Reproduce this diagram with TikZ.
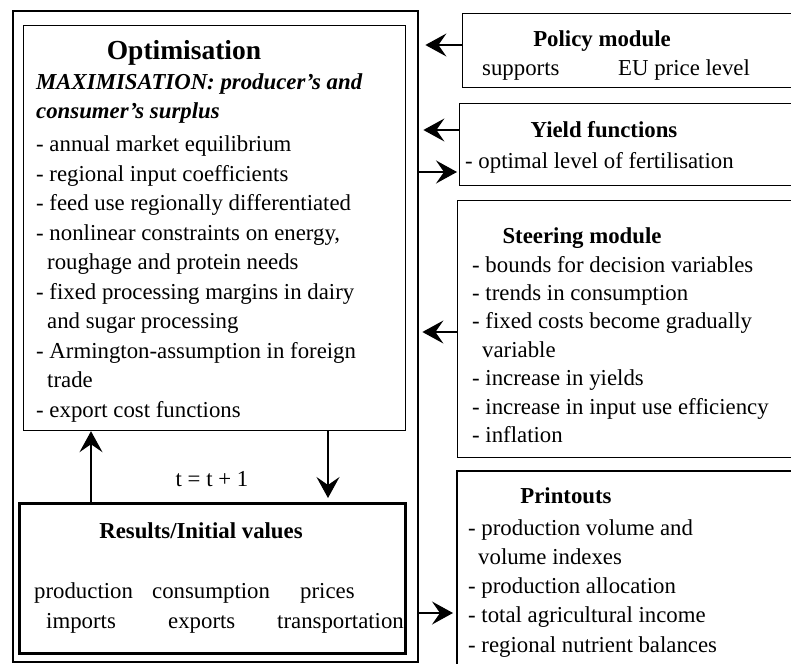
\documentclass[tikz,border=0pt]{standalone}
\usepackage{fontspec}
\setmainfont{Liberation Serif}
\usetikzlibrary{arrows.meta,positioning}

\begin{document}
\begin{tikzpicture}[x=1pt,y=-1pt,
  box/.style={draw, line width=1.2pt, inner sep=0pt, anchor=north west},
  txt/.style={anchor=base west, inner sep=0pt, font=\fontsize{22.8}{29.4}\selectfont},
  head/.style={anchor=base, inner sep=0pt, font=\fontsize{22.8}{29.4}\selectfont\bfseries},
  arr/.style={line width=1.2pt, -{Stealth[length=21pt,width=23pt,inset=8pt]}}]
\useasboundingbox (0,0) rectangle (791,663);
\clip (0,0) rectangle (791,663);

%boxes
\node[box, line width=2.4pt, minimum width=405pt, minimum height=651pt] (outer) at (12,10) {};
\node[box, minimum width=382pt, minimum height=405pt] (opt) at (23,25) {};
\node[box, line width=3pt, minimum width=386pt, minimum height=150pt] (res) at (18,502) {};
\node[box, minimum width=340pt, minimum height=74pt] (policy) at (462,13) {};
\node[box, minimum width=340pt, minimum height=82pt] (yield) at (459,103) {};
\node[box, minimum width=340pt, minimum height=257pt] (steer) at (457,200) {};
\node[box, line width=1.8pt, minimum width=340pt, minimum height=210pt] (print) at (456,470) {};

%optimisation
\node[anchor=base, inner sep=0pt, font=\fontsize{27.5}{30}\selectfont\bfseries] (optT) at (184,60) {Optimisation};
\node[txt, font=\fontsize{22.8}{29.4}\selectfont\bfseries\itshape] (max1) at (36,90) {MAXIMISATION: producer's and};
\node[txt, font=\fontsize{22.8}{29.4}\selectfont\bfseries\itshape] (max2) at (36,119) {consumer's surplus};
\foreach \dx/\t [count=\i] in {
  0/{- annual market equilibrium},
  0/{- regional input coefficients},
  0/{- feed use regionally differentiated},
  0/{- nonlinear constraints on energy,},
  11/{roughage and protein needs},
  0/{- fixed processing margins in dairy},
  11/{and sugar processing},
  0/{- Armington-assumption in foreign},
  11/{trade},
  0/{- export cost functions}}
  \node[txt] (opt\i) at ({36+\dx}, {152+29.45*(\i-1)}) {\t};

%results
\node[head] (resT) at (201,538) {Results/Initial values};
\node[txt] (r1) at (34,598) {production};
\node[txt] (r2) at (152,598) {consumption};
\node[txt] (r3) at (300,598) {prices};
\node[txt] (r4) at (46,628) {imports};
\node[txt] (r5) at (168,628) {exports};
\node[txt] (r6) at (277,628) {transportation};
\node[txt, anchor=base] (loop) at (212,486) {t = t + 1};

%policy module
\node[head] (polT) at (602,47) {Policy module};
\node[txt] (pol1) at (482,76) {supports};
\node[txt] (pol2) at (618,76) {EU price level};

%yield functions
\node[head] (yldT) at (604,138) {Yield functions};
\node[txt] (yld1) at (465,168) {- optimal level of fertilisation};

%steering module
\node[head] (stT) at (582,243) {Steering module};
\foreach \dx/\t [count=\i] in {
  0/{- bounds for decision variables},
  0/{- trends in consumption},
  0/{- fixed costs become gradually},
  10/{variable},
  0/{- increase in yields},
  0/{- increase in input use efficiency},
  0/{- inflation}}
  \node[txt] (st\i) at ({472+\dx}, {272+28.4*(\i-1)}) {\t};

%printouts
\node[head] (prT) at (566,503) {Printouts};
\foreach \dx/\t [count=\i] in {
  0/{- production volume and},
  10/{volume indexes},
  0/{- production allocation},
  0/{- total agricultural income},
  0/{- regional nutrient balances}}
  \node[txt] (pr\i) at ({468+\dx}, {535+29.3*(\i-1)}) {\t};

%arrows
\draw[arr, shorten >=6pt] (policy.west |- 0,45) -- (outer.east |- 0,45);
\draw[arr, shorten >=4pt] (yield.west |- 0,130) -- (outer.east |- 0,130);
\draw[arr, shorten >=2pt] (outer.east |- 0,172) -- (yield.west |- 0,172);
\draw[arr, shorten >=3pt] (steer.west |- 0,332) -- (outer.east |- 0,332);
\draw[arr, shorten >=3pt] (outer.east |- 0,613) -- (print.west |- 0,613);
\draw[arr] (res.north -| 91,0) -- (opt.south -| 91,0);
\draw[arr, shorten >=4pt] (opt.south -| 328,0) -- (res.north -| 328,0);
\end{tikzpicture}
\end{document}
